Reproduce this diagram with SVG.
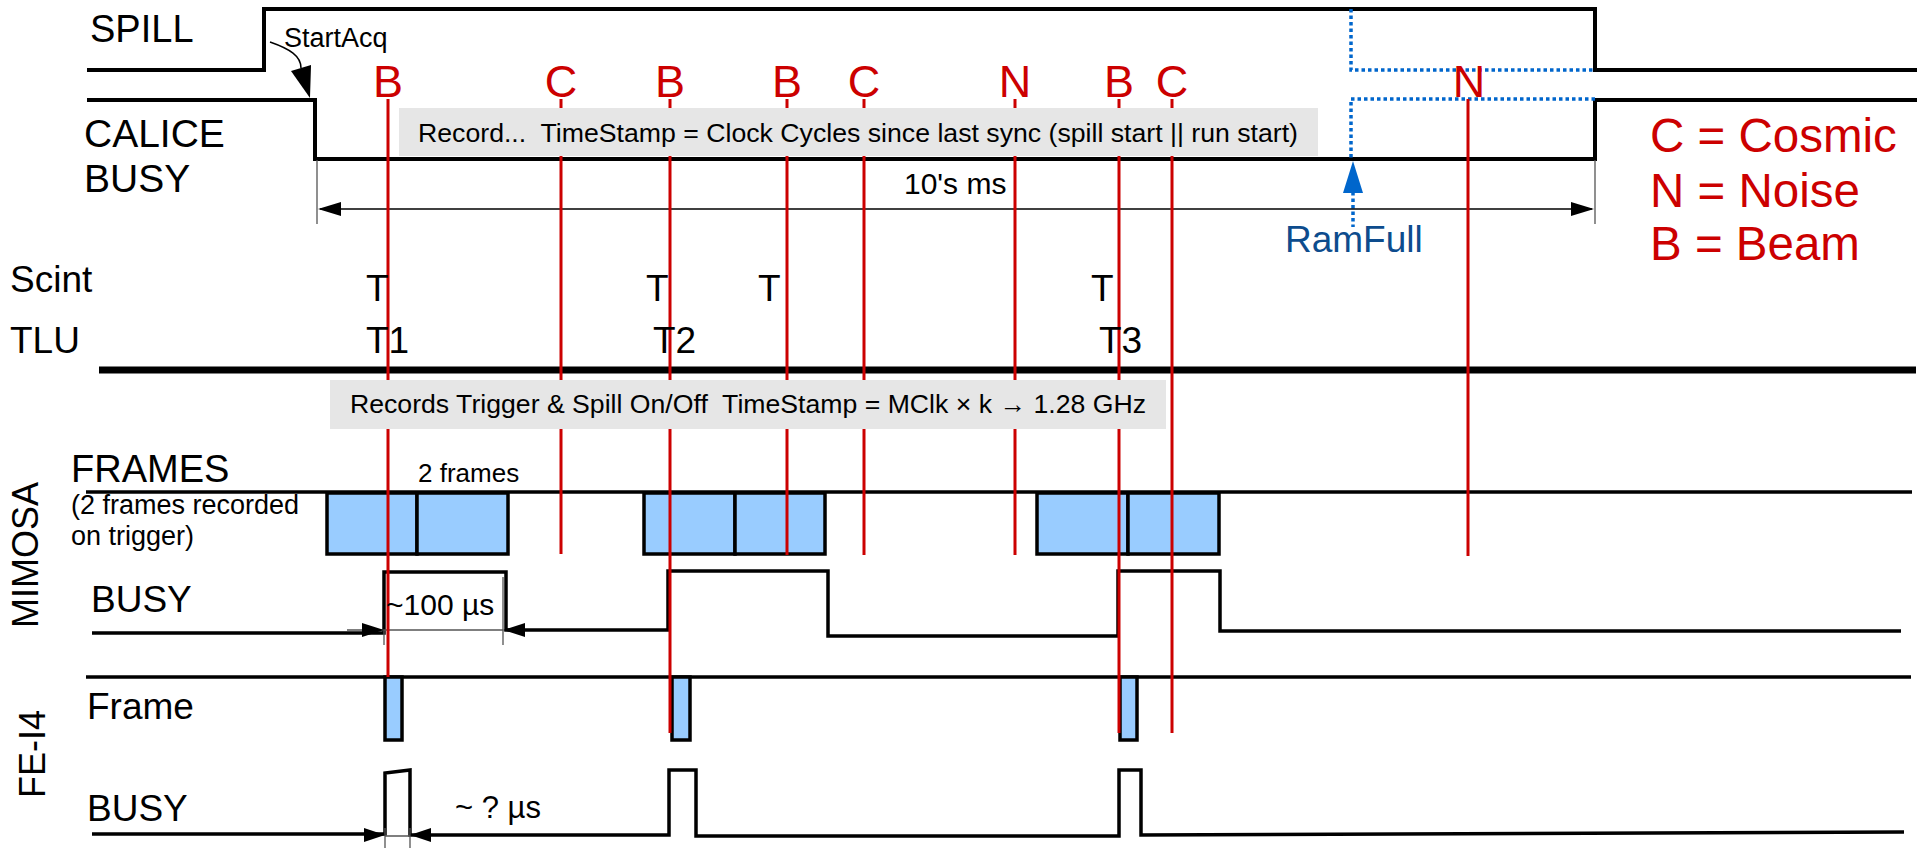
<svg xmlns="http://www.w3.org/2000/svg" width="1926" height="848" viewBox="0 0 1926 848">
<defs>
<style>
text{font-family:"Liberation Sans",Arial,sans-serif;fill:#000}
.sig{fill:none;stroke:#000;stroke-width:4;stroke-linejoin:miter}
.sig3{fill:none;stroke:#000;stroke-width:3.5}
.frm{fill:#99CCFF;stroke:#000;stroke-width:3.5}
.ev{stroke:#CC0000;stroke-width:3;fill:none}
.evl{fill:#CC0000;font-size:45px;text-anchor:middle}
.dot{fill:none;stroke:#0066CC;stroke-width:3.5;stroke-dasharray:3.5 3}
.dim{fill:none;stroke:#000;stroke-width:1.5}
.ext{fill:none;stroke:#555;stroke-width:1.3}
.box{fill:#E6E6E6}
.lbl{font-size:37px}
.leg{fill:#CC0000;font-size:47.5px}
</style>
</defs>
<rect width="1926" height="848" fill="#fff"/>

<g id="signals">
  <path id="spill" class="sig" d="M87,70 H264 V9 H1595 V70 H1917"/>
  <path id="calice-busy" class="sig" d="M87,100 H315 V159 H1595 V100 H1917"/>
  <path id="tlu-line" d="M99,370 H1916" stroke="#000" stroke-width="7"/>
  <path id="mimosa-frame-line" class="sig3" d="M86,492 H1912"/>
  <path id="mimosa-busy" class="sig3" d="M92,633 H384 V572 H506 V630 H668 V571 H828 V636 H1118 V571 H1220 V631 H1901"/>
  <path id="fei4-line" class="sig3" d="M86,677 H1911"/>
  <path id="fei4-busy" class="sig3" d="M92,834 H385 V773 L410,770 V835 H669 V770 H696 V836 H1119 V770 H1141 V835 L1904,832"/>
</g>

<g id="mimosa-frames">
  <rect class="frm" x="327" y="493" width="90" height="61"/>
  <rect class="frm" x="417" y="493" width="91" height="61"/>
  <rect class="frm" x="644" y="493" width="91" height="61"/>
  <rect class="frm" x="735" y="493" width="90" height="61"/>
  <rect class="frm" x="1037" y="493" width="91" height="61"/>
  <rect class="frm" x="1128" y="493" width="91" height="61"/>
</g>

<g id="fei4-frames">
  <rect class="frm" x="385" y="677" width="17" height="63"/>
  <rect class="frm" x="672" y="677" width="18" height="63"/>
  <rect class="frm" x="1120" y="677" width="17" height="63"/>
</g>

<g id="ramfull">
  <path class="dot" d="M1351,9 V70 H1595"/>
  <path class="dot" d="M1595,99 H1351 V160"/>
  <path class="dot" d="M1353,192 V227"/>
  <polygon points="1353,161 1343,193 1363,193" fill="#0066CC"/>
  <text x="1285" y="252" font-size="37" style="fill:#0D4C8D">RamFull</text>
</g>

<g id="connectors">
  <path class="dim" d="M270,42 C290,49 301,56 301,68"/>
  <polygon points="291,71 311,65 310,98" fill="#000"/>
  <path class="ext" d="M317,160 V224 M1595,160 V224"/>
  <path class="dim" d="M320,209 H1592"/>
  <polygon points="318,209 341,202 341,216" fill="#000"/>
  <polygon points="1594,209 1571,202 1571,216" fill="#000"/>
  <path class="ext" d="M384,630 V645 M503,577 V645"/>
  <path class="ext" d="M347,630 H503"/>
  <polygon points="384,630 362,623 362,637" fill="#000"/>
  <polygon points="503,630 525,623 525,637" fill="#000"/>
  <path class="ext" d="M385,828 V848 M410,828 V848 M385,836 H410"/>
  <polygon points="385,835 364,828 364,842" fill="#000"/>
  <polygon points="410,835 431,828 431,842" fill="#000"/>
</g>

<g id="events">
  <path class="ev" d="M388,99 V677"/>
  <path class="ev" d="M561,99 V554"/>
  <path class="ev" d="M670,99 V733"/>
  <path class="ev" d="M787,99 V555"/>
  <path class="ev" d="M864,99 V555"/>
  <path class="ev" d="M1015,99 V555"/>
  <path class="ev" d="M1119,99 V733"/>
  <path class="ev" d="M1172,99 V733"/>
  <path class="ev" d="M1468,99 V556"/>
  <text class="evl" x="388" y="97">B</text>
  <text class="evl" x="561" y="97">C</text>
  <text class="evl" x="670" y="97">B</text>
  <text class="evl" x="787" y="97">B</text>
  <text class="evl" x="864" y="97">C</text>
  <text class="evl" x="1015" y="97">N</text>
  <text class="evl" x="1119" y="97">B</text>
  <text class="evl" x="1172" y="97">C</text>
  <text class="evl" x="1469" y="97">N</text>
</g>

<g id="calice-box">
  <rect class="box" x="399" y="108" width="919" height="48"/>
  <text x="418" y="142" font-size="26.5" textLength="880" lengthAdjust="spacingAndGlyphs">Record...&#160; TimeStamp = Clock Cycles since last sync (spill start || run start)</text>
</g>

<g id="tlu-box">
  <rect class="box" x="330" y="380" width="836" height="49"/>
  <text x="350" y="413" font-size="26.5" textLength="796" lengthAdjust="spacingAndGlyphs">Records Trigger &amp; Spill On/Off&#160; TimeStamp = MClk × k → 1.28 GHz</text>
</g>

<g id="labels">
  <text x="90" y="42" font-size="38">SPILL</text>
  <text x="284" y="47" font-size="27">StartAcq</text>
  <text x="84" y="147" font-size="39">CALICE</text>
  <text x="84" y="192" font-size="39">BUSY</text>
  <text x="904" y="194" font-size="30">10's ms</text>
  <text x="10" y="292" class="lbl">Scint</text>
  <text x="10" y="353" class="lbl">TLU</text>
  <text x="366" y="301" class="lbl">T</text>
  <text x="646" y="301" class="lbl">T</text>
  <text x="758" y="301" class="lbl">T</text>
  <text x="1091" y="301" class="lbl">T</text>
  <text x="366" y="353" class="lbl">T1</text>
  <text x="653" y="353" class="lbl">T2</text>
  <text x="1099" y="353" class="lbl">T3</text>
  <text x="71" y="482" font-size="38">FRAMES</text>
  <text x="418" y="482" font-size="26">2 frames</text>
  <text x="71" y="514" font-size="27">(2 frames recorded</text>
  <text x="71" y="545" font-size="27">on trigger)</text>
  <text transform="translate(38,555) rotate(-90)" text-anchor="middle" font-size="36">MIMOSA</text>
  <text x="91" y="612" class="lbl">BUSY</text>
  <text x="386" y="615" font-size="30">~100 µs</text>
  <text transform="translate(45,754) rotate(-90)" text-anchor="middle" font-size="36">FE-I4</text>
  <text x="87" y="719" class="lbl">Frame</text>
  <text x="87" y="821" class="lbl">BUSY</text>
  <text x="455" y="818" font-size="31">~ ? µs</text>
</g>

<g id="legend">
  <text class="leg" x="1650" y="152">C = Cosmic</text>
  <text class="leg" x="1650" y="207">N = Noise</text>
  <text class="leg" x="1650" y="260">B = Beam</text>
</g>
</svg>
